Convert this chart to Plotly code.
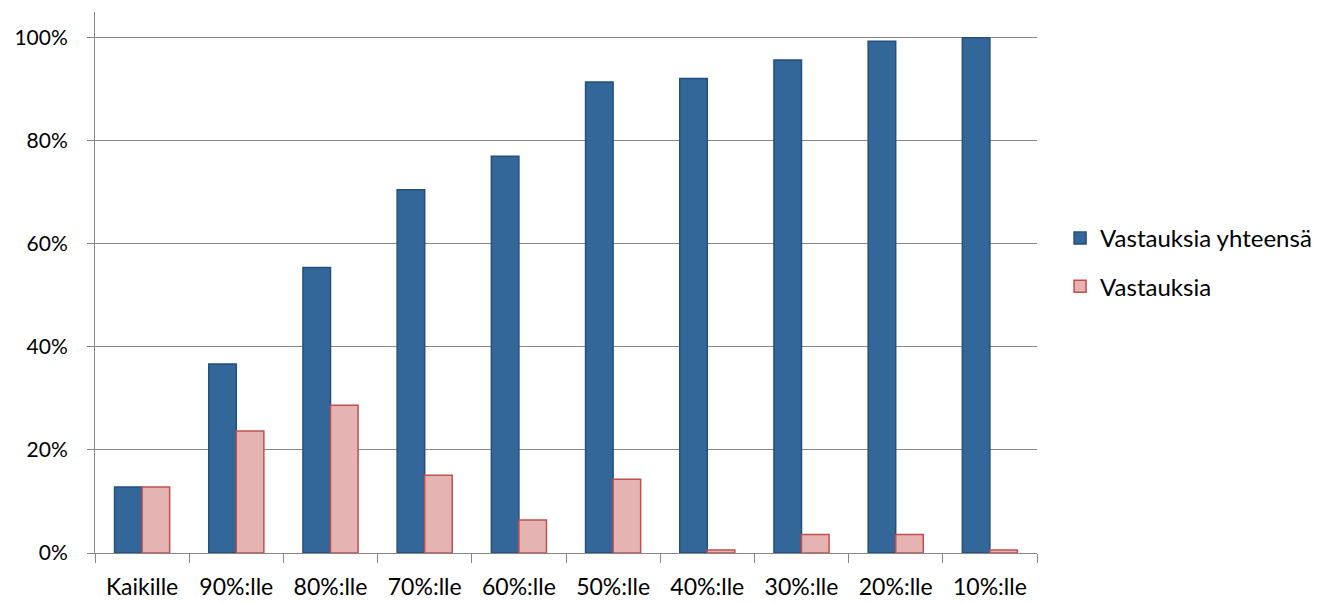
import plotly.graph_objects as go

categories = ["Kaikille", "90%:lle", "80%:lle", "70%:lle", "60%:lle",
              "50%:lle", "40%:lle", "30%:lle", "20%:lle", "10%:lle"]
vastauksia_yhteensa = [0.128, 0.367, 0.554, 0.705, 0.770, 0.914, 0.921, 0.957, 0.993, 1.000]
vastauksia = [0.128, 0.237, 0.287, 0.151, 0.064, 0.143, 0.006, 0.036, 0.036, 0.006]
y_ticks = [0, 0.2, 0.4, 0.6, 0.8, 1.0]
y_tick_labels = ["0%", "20%", "40%", "60%", "80%", "100%"]

FONT = "Lato, 'Open Sans', sans-serif"

fig = go.Figure()
fig.add_trace(go.Bar(
    name="Vastauksia yhteensä", x=categories, y=vastauksia_yhteensa,
    marker=dict(color="#336699", line=dict(color="#24507c", width=1.5)),
    legendgroup="a",
))
fig.add_trace(go.Bar(
    name="Vastauksia", x=categories, y=vastauksia,
    marker=dict(color="#e5b3b2", line=dict(color="#c0504d", width=1.5)),
    legendgroup="b",
))

fig.update_layout(
    width=1319, height=595,
    margin=dict(l=87, r=290, t=4, b=50, autoexpand=False),
    paper_bgcolor="white", plot_bgcolor="white",
    barmode="group", bargap=0.415, bargroupgap=0,
    font=dict(family=FONT, size=23, color="#000000"),
    legend=dict(x=1.0245, y=0.537, xanchor="left", yanchor="middle",
                font=dict(size=24), tracegroupgap=14, itemwidth=30),
    showlegend=True,
)
fig.update_xaxes(
    type="category", tickson="boundaries", ticks="outside", ticklen=9,
    tickcolor="#868686", showline=True, linecolor="#868686", linewidth=1,
    showgrid=False, tickfont=dict(size=23), automargin=False,
    ticklabelstandoff=13,
)
fig.update_yaxes(
    range=[0, 1.05], tickvals=y_ticks, ticktext=y_tick_labels,
    ticks="outside", ticklen=7, tickcolor="#868686",
    showline=True, linecolor="#868686", linewidth=1,
    showgrid=True, gridcolor="#868686", gridwidth=1,
    zeroline=False, tickfont=dict(size=21), automargin=False,
    ticklabelstandoff=15,
)

fig.write_html("out.html")
